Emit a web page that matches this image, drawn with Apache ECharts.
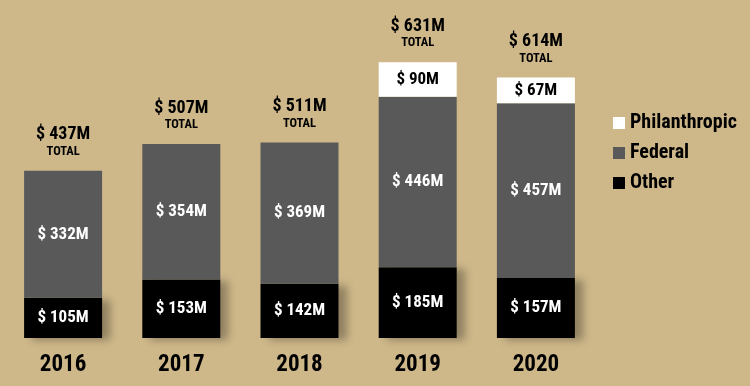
<!DOCTYPE html>
<html><head><meta charset="utf-8">
<script src="https://cdn.jsdelivr.net/npm/echarts@6/dist/echarts.min.js"></script>
<style>html,body{margin:0;padding:0;background:#CEB88A;}#c{width:750px;height:386px;}</style>
</head><body><div id="c"></div>
<script>
const years = ['2016','2017','2018','2019','2020'];
const other = [105,153,142,185,157];
const federal = [332,354,369,446,457];
const philanthropic = [0,0,0,90,67];
const totals = [437,507,511,631,614];

const FONT = '"Roboto Condensed","Arial Narrow","Liberation Sans Narrow","DejaVu Sans Condensed",sans-serif';
const chart = echarts.init(document.getElementById('c'));
const inLabel = (color) => ({
  show: true, position: 'inside', color: color, fontFamily: FONT, fontWeight: 'bold', fontSize: 17,
  formatter: p => p.value ? '$ ' + p.value + 'M' : ''
});
chart.setOption({
  backgroundColor: '#CEB88A',
  animation: false,
  grid: {left: 4, right: 155, top: 32, bottom: 48},
  legend: {
    orient: 'vertical', left: 608, top: 108, itemWidth: 12, itemHeight: 12, itemGap: 10,
    icon: 'rect', data: ['Philanthropic','Federal','Other'],
    textStyle: {color: '#000', fontFamily: FONT, fontWeight: 'bold', fontSize: 20}
  },
  xAxis: {
    type: 'category', data: years,
    axisLine: {show: false}, axisTick: {show: false},
    axisLabel: {color: '#000', fontFamily: FONT, fontWeight: 'bold', fontSize: 23, margin: 16}
  },
  yAxis: {type: 'value', min: 0, max: 800, show: false, splitLine: {show: false}},
  series: [
    {name: 'Other', type: 'bar', stack: 's', data: other, barWidth: 78,
     itemStyle: {color: '#000', shadowColor: 'rgba(0,0,0,0.3)', shadowBlur: 8, shadowOffsetX: 8, shadowOffsetY: 2},
     label: inLabel('#fff')},
    {name: 'Federal', type: 'bar', stack: 's', data: federal, barWidth: 78,
     itemStyle: {color: '#595959'}, label: inLabel('#fff')},
    {name: 'Philanthropic', type: 'bar', stack: 's', data: philanthropic, barWidth: 78,
     itemStyle: {color: '#fff'}, label: inLabel('#000')},
    {name: 'Total', type: 'bar', stack: 's', data: totals.map(() => 0), barWidth: 78,
     itemStyle: {color: 'transparent'},
     label: {show: true, position: 'top', distance: 12,
       formatter: p => '{a|$ ' + totals[p.dataIndex] + 'M}\n{b|TOTAL}',
       rich: {
         a: {fontFamily: FONT, fontWeight: 'bold', fontSize: 18, color: '#000', lineHeight: 20, align: 'center'},
         b: {fontFamily: FONT, fontWeight: 'bold', fontSize: 12.5, color: '#000', lineHeight: 14, align: 'center'}
       }}}
  ]
});
</script></body></html>
